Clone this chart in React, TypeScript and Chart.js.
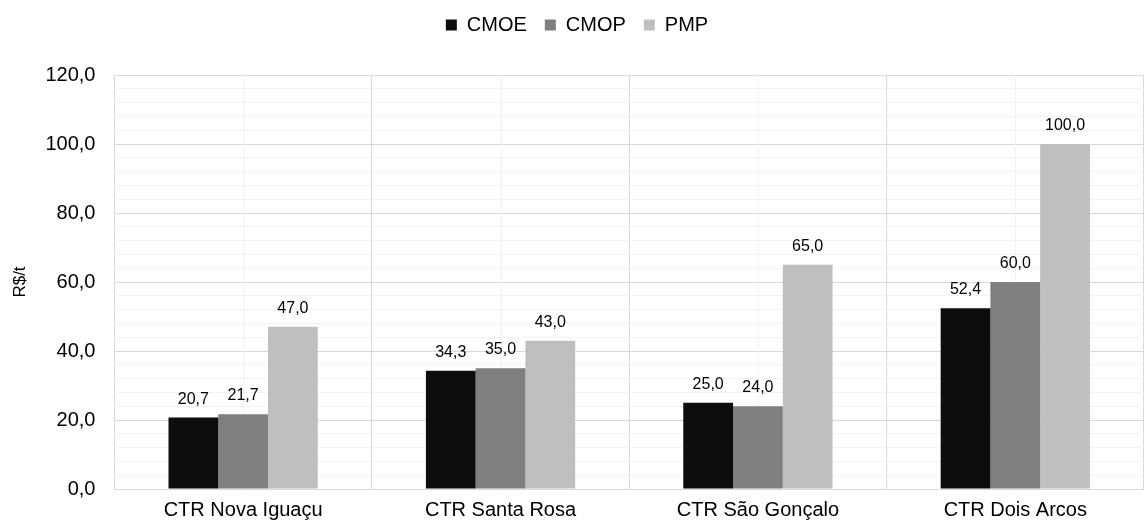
import React, { useEffect, useRef } from "react";
import { Chart, registerables } from "chart.js";

Chart.register(...registerables);

const categories = ["CTR Nova Iguaçu", "CTR Santa Rosa", "CTR São Gonçalo", "CTR Dois Arcos"];
const cmoe = [20.7, 34.3, 25.0, 52.4];
const cmop = [21.7, 35.0, 24.0, 60.0];
const pmp = [47.0, 43.0, 65.0, 100.0];
const seriesNames = ["CMOE", "CMOP", "PMP"];
const seriesColors = ["#0d0d0d", "#7f7f7f", "#bfbfbf"];
const yMin = 0;
const yMax = 120;
const yMinorStep = 4;
const yMajorStep = 20;

const fmt = (v: number) => v.toFixed(1).replace(".", ",");

const FONT = "'Liberation Sans', Arial, sans-serif";

const legendGap = {
  id: "legendGap",
  beforeInit(chart: any) {
    const legend = chart.legend;
    if (!legend) return;
    const origFit = legend.fit;
    legend.fit = function () {
      origFit.call(this);
      this.height += 30;
    };
  },
};

const centerLines = {
  id: "centerLines",
  beforeDatasetsDraw(chart: any) {
    const { ctx, chartArea, scales } = chart;
    const x = scales.x;
    ctx.save();
    ctx.strokeStyle = "#f2f2f2";
    ctx.lineWidth = 1;
    categories.forEach((_, i) => {
      const px = Math.round(x.getPixelForValue(i)) + 0.5;
      ctx.beginPath();
      ctx.moveTo(px, chartArea.top);
      ctx.lineTo(px, chartArea.bottom);
      ctx.stroke();
    });
    ctx.restore();
  },
};

const valueLabels = {
  id: "valueLabels",
  afterDatasetsDraw(chart: any) {
    const { ctx } = chart;
    ctx.save();
    ctx.fillStyle = "#000000";
    ctx.font = `16px ${FONT}`;
    ctx.textAlign = "center";
    ctx.textBaseline = "alphabetic";
    chart.data.datasets.forEach((ds: any, di: number) => {
      const meta = chart.getDatasetMeta(di);
      meta.data.forEach((bar: any, i: number) => {
        ctx.fillText(fmt(ds.data[i]), bar.x, bar.y - 14);
      });
    });
    ctx.restore();
  },
};

export default function App() {
  const ref = useRef<HTMLCanvasElement | null>(null);
  useEffect(() => {
    if (!ref.current) return;
    const datas = [cmoe, cmop, pmp];
    const chart = new Chart(ref.current, {
      type: "bar",
      data: {
        labels: categories,
        datasets: seriesNames.map((n, i) => ({
          label: n,
          data: datas[i],
          backgroundColor: seriesColors[i],
          borderWidth: 0,
          categoryPercentage: 0.58,
          barPercentage: 1,
        })),
      },
      options: {
        animation: false,
        responsive: true,
        maintainAspectRatio: false,
        layout: { padding: { left: 10, right: 2, top: -3, bottom: -5 } },
        plugins: {
          tooltip: { enabled: false },
          legend: {
            position: "top",
            labels: {
              boxWidth: 11,
              boxHeight: 11,
              padding: 18,
              color: "#000",
              font: { family: FONT, size: 20 },
              useBorderRadius: false,
            },
          },
        },
        scales: {
          x: {
            grid: { color: "#d9d9d9", lineWidth: 1, offset: true, drawTicks: false },
            border: { display: false },
            ticks: { color: "#000", font: { family: FONT, size: 20 }, padding: 9 },
          },
          y: {
            min: yMin,
            max: yMax,
            grid: {
              color: (c: any) => (c.tick && c.tick.value % yMajorStep === 0 ? "#d9d9d9" : "#f2f2f2"),
              lineWidth: 1,
              drawTicks: false,
            },
            border: { display: false },
            ticks: {
              stepSize: yMinorStep,
              autoSkip: false,
              color: "#000",
              font: { family: FONT, size: 20 },
              padding: 19,
              callback: (v: any) => (Number(v) % yMajorStep === 0 ? fmt(Number(v)) : ""),
            },
            title: {
              display: true,
              text: "R$/t",
              color: "#000",
              font: { family: FONT, size: 17 },
              padding: { top: 0, bottom: -4 },
            },
          },
        },
      },
      plugins: [legendGap, centerLines, valueLabels],
    } as any);
    return () => chart.destroy();
  }, []);
  return (
    <div style={{ position: "fixed", left: 0, top: 0, width: 1146, height: 526, background: "#fff" }}>
      <canvas ref={ref} />
    </div>
  );
}
